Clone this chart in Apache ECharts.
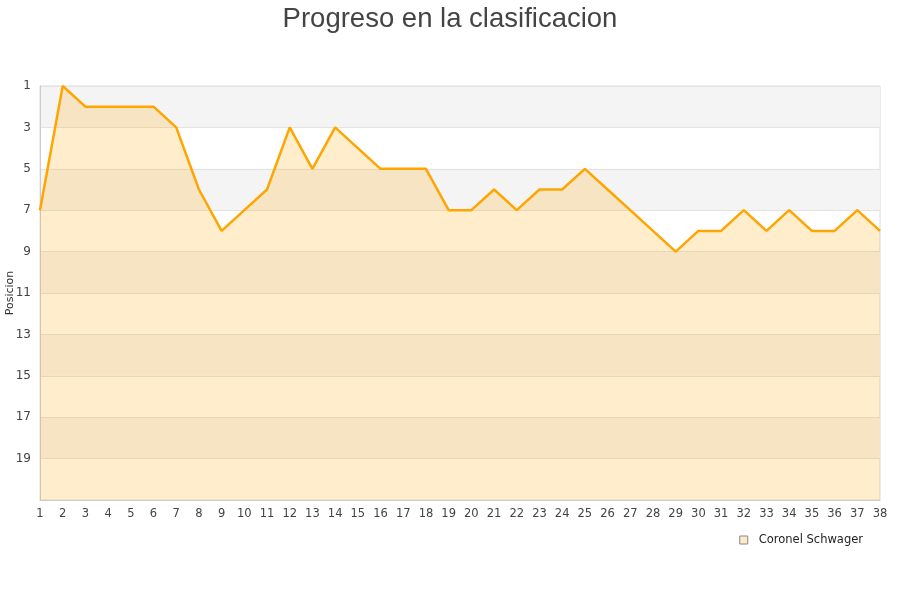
<!DOCTYPE html>
<html>
<head>
<meta charset="utf-8">
<script src="https://cdn.jsdelivr.net/npm/echarts@6/dist/echarts.min.js"></script>
<style>
  html, body { margin: 0; padding: 0; background: #fff; }
  #chart { width: 900px; height: 600px; }
</style>
</head>
<body>
<div id="chart"></div>
<script>
// jornadas y posicion
const jornadas = [];
for (let i = 1; i <= 38; i++) jornadas.push(String(i));
const posiciones = [7, 1, 2, 2, 2, 2, 3, 6, 8, 7, 6, 3, 5, 3, 4, 5, 5, 5, 7, 7,
  6, 7, 6, 6, 5, 6, 7, 8, 9, 8, 8, 7, 8, 7, 8, 8, 7, 8];
const equipo = 'Coronel Schwager';

const chart = echarts.init(document.getElementById('chart'));

const option = {
  animation: false,
  backgroundColor: '#ffffff',
  textStyle: { fontFamily: 'DejaVu Sans' },
  title: {
    text: 'Progreso en la clasificacion',
    left: 'center',
    top: 0,
    textStyle: {
      fontFamily: 'Liberation Sans',
      fontSize: 27.5,
      fontWeight: 'normal',
      color: '#444'
    }
  },
  legend: {
    right: 32,
    top: 529,
    itemWidth: 8,
    itemHeight: 8,
    icon: 'rect',
    itemGap: 10,
    textStyle: { fontSize: 11.5, color: '#222', fontFamily: 'DejaVu Sans', padding: [0, 0, 0, 6] },
    data: [{
      name: equipo,
      itemStyle: { color: '#fdebc8', borderColor: '#888', borderWidth: 1 }
    }]
  },
  grid: {
    left: 40,
    right: 20,
    top: 86,
    bottom: 100,
    containLabel: false,
    outerBoundsMode: 'none',
    show: true,
    borderColor: '#dcdcdc',
    borderWidth: 1
  },
  xAxis: {
    type: 'category',
    data: jornadas,
    boundaryGap: false,
    axisLine: { lineStyle: { color: '#cccccc' } },
    axisTick: { show: false },
    axisLabel: { color: '#444', fontSize: 11.5, margin: 8, interval: 0 },
    splitLine: { show: false }
  },
  yAxis: {
    type: 'value',
    inverse: true,
    min: 1,
    max: 21,
    interval: 2,
    name: 'Posicion',
    nameLocation: 'middle',
    nameGap: 24,
    nameMoveOverlap: false,
    nameTextStyle: { fontSize: 11, color: '#333' },
    axisLine: { show: true, lineStyle: { color: '#cccccc' } },
    axisTick: { show: false },
    axisLabel: {
      color: '#444',
      fontSize: 12,
      margin: 9,
      formatter: v => (v === 21 ? '' : v)
    },
    splitLine: { show: true, lineStyle: { color: '#e3e3e3' } },
    splitArea: {
      show: true,
      areaStyle: { color: ['#f4f4f4', 'rgba(255,255,255,0)'] }
    }
  },
  series: [{
    name: equipo,
    type: 'line',
    data: posiciones,
    symbol: 'none',
    lineStyle: { color: '#ffa500', width: 2.5 },
    itemStyle: { color: '#ffa500' },
    areaStyle: { color: '#ffa500', opacity: 0.2, origin: 'end' }
  }]
};

chart.setOption(option);
</script>
</body>
</html>
